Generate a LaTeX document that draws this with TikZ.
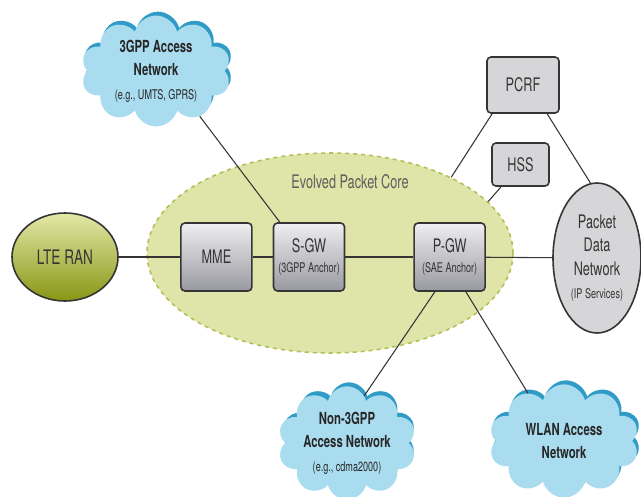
\documentclass[tikz,border=0pt]{standalone}
\usepackage{fontspec}
\setmainfont{TeX Gyre Heros}[FakeStretch=0.68]
\usetikzlibrary{positioning,shapes.geometric,shapes.symbols}

\definecolor{epcfill}{HTML}{DFE5A8}
\definecolor{epcline}{HTML}{B2C058}
\definecolor{ranlight}{HTML}{E4E8A8}
\definecolor{randark}{HTML}{889614}
\definecolor{boxtop}{HTML}{EFEFF1}
\definecolor{boxbot}{HTML}{9898A0}
\definecolor{flatgray}{HTML}{D6D6D8}
\definecolor{cloudfill}{HTML}{A9DCEE}
\definecolor{cloudrim}{HTML}{2F9BC6}
\definecolor{ink}{HTML}{353535}

\newcommand\subtxt{\fontsize{10}{12}\selectfont}

\begin{document}
\begin{tikzpicture}[x=0.75pt, y=-0.75pt,
  font=\fontsize{14}{17.5}\selectfont, text=ink,
  link/.style={draw=ink, line width=0.8pt},
  gwbox/.style={draw=ink, line width=1.2pt, rounded corners=3pt, top color=boxtop, bottom color=boxbot,
    minimum width=53.25pt, minimum height=51pt, align=center, inner sep=0pt},
  srvbox/.style={draw=ink, line width=1.2pt, rounded corners=3pt, fill=flatgray, align=center, inner sep=0pt},
  netoval/.style={ellipse, draw=ink, line width=1.2pt, align=center, inner sep=0pt},
  cloudrimshape/.style={cloud, cloud puffs=10, cloud ignores aspect, fill=cloudrim, draw=none},
  cloudnet/.style={cloud, cloud puffs=10, cloud ignores aspect, fill=cloudfill, draw=none, align=center,
    inner sep=0pt, text=black!85, font=\fontsize{12.5}{17.5}\selectfont\bfseries}
]
\useasboundingbox (0,0) rectangle (641,496);

% core oval
\node[ellipse, fill=epcfill, draw=epcline, dashed, line width=1.2pt,
  minimum width=274.5pt, minimum height=150pt] (epc) at (330,253) {};
\node[text=ink!80] (epclabel) at (350,182) {Evolved Packet Core};

% radio side and gateways
\node[netoval, top color=ranlight, bottom color=randark, minimum width=79.5pt, minimum height=66pt,
  font=\fontsize{15}{18}\selectfont] (lte) at (65,257) {LTE RAN};
\node[gwbox, right=46pt of lte] (mme) {MME};
\node[gwbox, right=15pt of mme] (sgw) {S-GW\\[-2.5pt]{\subtxt (3GPP Anchor)}};
\node[gwbox, right=51pt of sgw] (pgw) {P-GW\\[-3pt]{\subtxt (SAE Anchor)}};

% servers and packet data network
\node[srvbox, minimum width=54pt, minimum height=42pt] (pcrf) at (523,85) {PCRF};
\node[srvbox, minimum width=42.75pt, minimum height=32.25pt] (hss) at (520.5,164.5) {HSS};
\node[netoval, fill=flatgray, minimum width=66pt, minimum height=112.5pt] (pdn) at (597,258)
  {Packet\\Data\\Network\\{\subtxt (IP Services)}};

% access clouds
\node[cloudrimshape, minimum width=112.5pt, minimum height=83pt] (g3pprim) at (158,67) {};
\node[cloudnet, minimum width=112.5pt, minimum height=83pt] (g3pp) at (156,71)
  {3GPP Access\\Network\\{\mdseries\subtxt (e.g., UMTS, GPRS)}};
\node[cloudrimshape, minimum width=100.5pt, minimum height=85pt] (n3gpprim) at (349,439) {};
\node[cloudnet, minimum width=100.5pt, minimum height=85pt] (n3gpp) at (347,443)
  {Non-3GPP\\Access Network\\{\mdseries\subtxt (e.g., cdma2000)}};
\node[cloudrimshape, minimum width=112.5pt, minimum height=85pt] (wlanrim) at (566,437) {};
\node[cloudnet, minimum width=112.5pt, minimum height=85pt] (wlan) at (564,441)
  {WLAN Access\\Network};

% links
\draw[link] (lte) -- (mme);
\draw[link] (mme) -- (sgw);
\draw[link] (sgw) -- (pgw);
\draw[link] (pgw) -- (pdn);
\draw[link] (g3pp.-46) -- (sgw.130);
\draw[link] (pgw.-113) -- (n3gpp.70);
\draw[link] (pgw.-65) -- (wlan.127);
\draw[link] (pcrf.-137) -- (epc.32);
\draw[link] (hss) -- (epc.18);
\draw[link] (pcrf.-50) -- (pdn.95);

\end{tikzpicture}
\end{document}
